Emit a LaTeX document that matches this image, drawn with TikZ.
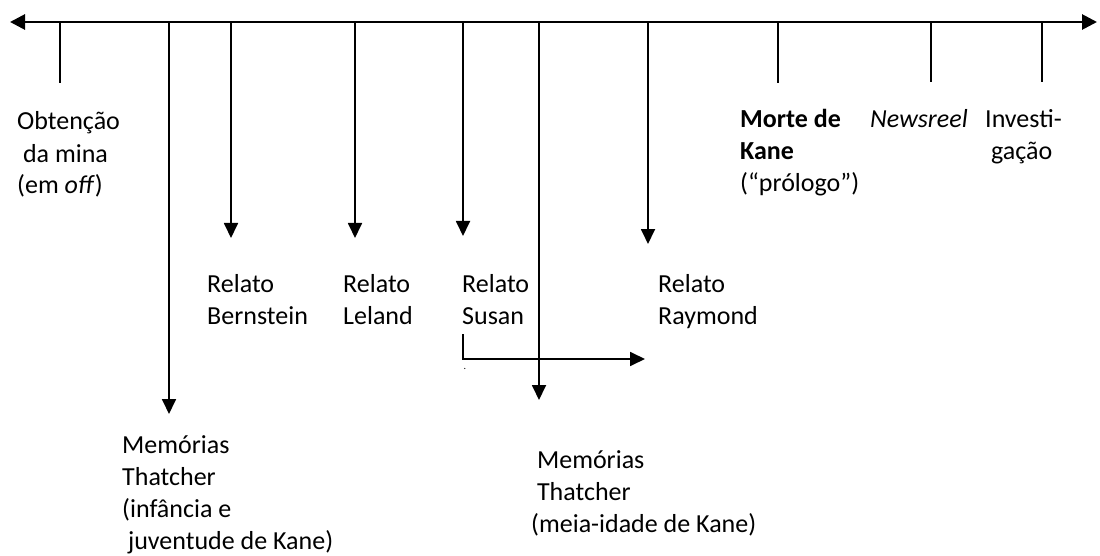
\documentclass[tikz,border=0pt]{standalone}
\usepackage{fontspec}
\setmainfont{Carlito}
\usetikzlibrary{arrows.meta}

\begin{document}
\begin{tikzpicture}
      [x=1pt, y=-1pt,
        lbl/.style={anchor=base west, align=left, inner sep=0pt,
          font=\fontsize{26}{32}\selectfont},
        tick/.style={line width=1.6pt},
        down/.style={line width=1.8pt, -{Triangle[length=15pt,width=14pt]}},
        axis/.style={line width=2.8pt,
          {Triangle[length=15pt,width=15pt]}-{Triangle[length=15pt,width=15pt]}}]
      \useasboundingbox (0,0) rectangle (1100,556);
      \coordinate (axL) at (10,22);
      \coordinate (axR) at (1097,22);
      \draw[axis] (axL) -- (axR);

      \coordinate (mina) at (60,22);
      \coordinate (minaEnd) at (60,83);
      \coordinate (morte) at (778,22);
      \coordinate (morteEnd) at (778,83);
      \coordinate (news) at (931,22);
      \coordinate (newsEnd) at (931,82);
      \coordinate (invest) at (1042,22);
      \coordinate (investEnd) at (1042,82);
      \draw[tick] (mina) -- (minaEnd);
      \draw[tick] (morte) -- (morteEnd);
      \draw[tick] (news) -- (newsEnd);
      \draw[tick] (invest) -- (investEnd);

      \coordinate (thatA) at (169,22);
      \coordinate (thatAEnd) at (169,414);
      \coordinate (bern) at (231,22);
      \coordinate (bernEnd) at (231,238);
      \coordinate (lel) at (355,22);
      \coordinate (lelEnd) at (355,238);
      \coordinate (sus) at (463,22);
      \coordinate (susEnd) at (463,236);
      \coordinate (thatB) at (539,22);
      \coordinate (thatBEnd) at (539,400);
      \coordinate (ray) at (648,22);
      \coordinate (rayEnd) at (648,244);
      \draw[down] (thatA) -- (thatAEnd);
      \draw[down] (bern) -- (bernEnd);
      \draw[down] (lel) -- (lelEnd);
      \draw[down] (sus) -- (susEnd);
      \draw[down] (thatB) -- (thatBEnd);
      \draw[down] (ray) -- (rayEnd);

      \node[lbl] (lmina) at (17,194) {Obtenção\\\ da mina\\(em \textit{off})};
      \node[lbl] (lmorte) at (740,192) {\bfseries Morte de\\\bfseries Kane\\(“prólogo”)};
      \node[lbl] (lnews) at (870,128) {\textit{Newsreel}};
      \node[lbl] (linvest) at (985,160) {Investi-\\\ gação};

      \node[lbl] (lbern) at (207,324) {Relato\\Bernstein};
      \node[lbl] (llel) at (343,324) {Relato\\Leland};
      \node[lbl] (lsus) at (462,324) {Relato\\Susan};
      \node[lbl] (lray) at (658,324) {Relato\\Raymond};

      \node[lbl] (lthatA) at (122,549) {Memórias\\Thatcher\\(infância e\\\ juventude de Kane)};
      \node[lbl] (lthatB) at (531,532) {\ Memórias\\\ Thatcher\\(meia-idade de Kane)};

      \coordinate (susBend) at (463,359);
      \coordinate (susGo) at (645,359);
      \draw[line width=1.8pt, -{Triangle[length=15pt,width=14pt]}]
        (463,334) -- (susBend) -- (susGo);
      \node[inner sep=0pt, font=\fontsize{10}{12}\selectfont] (dot) at (465,369) {.};
    \end{tikzpicture}
\end{document}
